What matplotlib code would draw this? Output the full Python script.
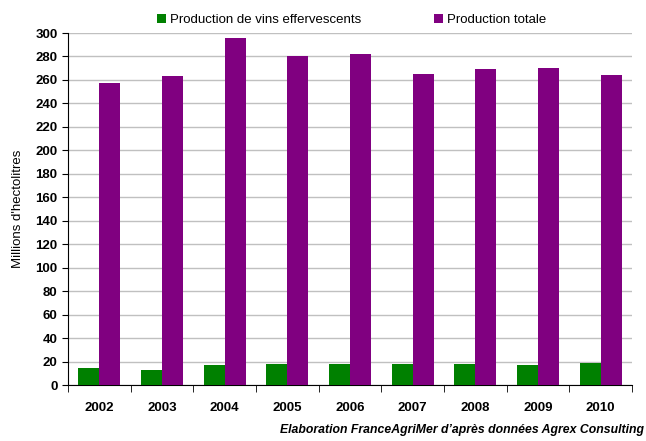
import numpy as np
import matplotlib
matplotlib.use("Agg")
import matplotlib.pyplot as plt

years = ["2002", "2003", "2004", "2005", "2006", "2007", "2008", "2009", "2010"]
effervescents = [14.5, 12.8, 17, 18, 18, 18, 18, 17, 19]
totale = [257, 263, 296, 280, 282, 265, 269, 270, 264]

plt.rcParams['font.family'] = ['Liberation Sans', 'DejaVu Sans']

fig = plt.figure(figsize=(6.46, 4.41), dpi=100)
ax = fig.add_axes([68/646, 1 - 385/441, 564/646, 352/441])

x = np.arange(len(years))
w = 1/3
ax.bar(x - w/2, effervescents, w, color="#008000", label="Production de vins effervescents", zorder=3)
ax.bar(x + w/2, totale, w, color="#800080", label="Production totale", zorder=3)

ax.set_xlim(-0.5, len(years) - 0.5)
ax.set_ylim(0, 300)
ax.set_yticks(range(0, 301, 20))
ax.yaxis.grid(True, color="#c0c0c0", linewidth=1, zorder=0)
ax.set_xticks(x)
ax.set_xticklabels(years, fontsize=9.5, fontweight="bold")
ax.set_xticks(np.arange(-0.5, len(years), 1), minor=True)
ax.tick_params(axis="x", which="major", length=0, pad=12)
ax.tick_params(axis="x", which="minor", length=5, direction="out")
ax.tick_params(axis="y", length=4, labelsize=9.5)
for lab in ax.get_yticklabels():
    lab.set_fontweight("bold")

for s in ["top", "right"]:
    ax.spines[s].set_visible(False)
ax.spines["left"].set_color("black")
ax.spines["bottom"].set_color("black")

ax.set_ylabel("Millions d'hectolitres", fontsize=9.5)
ax.yaxis.set_label_coords(-0.078, 0.5)

fig.legend(loc="upper left", bbox_to_anchor=(145/646, 0.995), ncol=2, frameon=False,
           fontsize=9.5, handlelength=0.7, handleheight=0.7, handletextpad=0.3, columnspacing=5.5)

fig.text(0.997, 0.012, "Elaboration FranceAgriMer d\u2019apr\u00e8s donn\u00e9es Agrex Consulting",
         ha="right", va="bottom", fontsize=8.8, fontstyle="italic", fontweight="bold")

fig.savefig("out.png", dpi=100)
